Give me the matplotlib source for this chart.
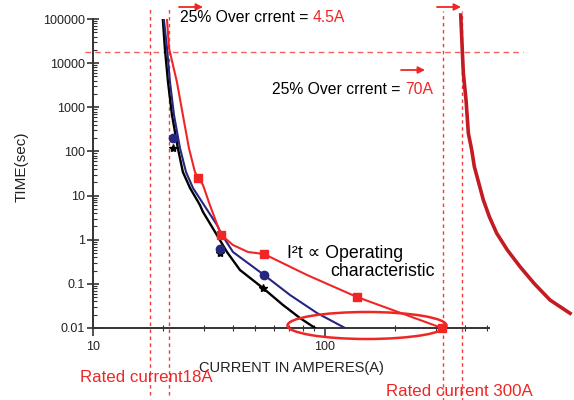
import matplotlib
matplotlib.use("Agg")
import matplotlib.pyplot as plt
from matplotlib.patches import Ellipse
from matplotlib.ticker import FixedLocator, NullFormatter

plt.rcParams['font.family'] = ['Liberation Sans', 'DejaVu Sans']

# time-current characteristics (current in A, time in s)
black_i = [20.0, 20.4, 21.05, 21.9, 23.2, 24.4, 26.2, 28.9, 29.8, 33.6, 37.8,
           43.0, 54.0, 65.9, 78.0, 90.6]
black_t = [1e5, 22000, 3740, 668, 120, 34.2, 14.8, 6.1, 4.24, 1.49, 0.526,
           0.206, 0.0805, 0.0332, 0.0168, 0.01]
black_pts_i = [22.1, 35.2, 54.0]
black_pts_t = [120, 0.5, 0.0805]

blue_i = [20.2, 20.84, 21.47, 22.34, 23.7, 25.17, 26.98, 30.1, 34.24, 35.97,
          40.13, 54.6, 70.7, 92.4, 122.0]
blue_t = [1e5, 22000, 3740, 668, 120, 34.2, 14.8, 6.1, 2.15, 1.28,
          0.526, 0.159, 0.0558, 0.0218, 0.01]
blue_pts_i = [22.1, 35.2, 54.6]
blue_pts_t = [200, 0.61, 0.159]

red_i = [20.84, 21.26, 23.0, 24.4, 25.9, 27.5, 28.4, 29.8, 31.9, 35.6, 40.1,
         46.6, 54.6, 83.6, 137.4, 319.0]
red_t = [1e5, 22000, 3740, 668, 120, 34.2, 25, 17.3, 6.1, 1.3, 0.759,
         0.526, 0.474, 0.159, 0.0503, 0.01]
red_pts_i = [28.4, 35.6, 54.6, 137.4, 319.0]
red_pts_t = [25, 1.3, 0.474, 0.0503, 0.01]

fuse_i = [384.6, 390.8, 394.7, 405.3, 414.8, 428.9, 440.2, 481.3, 510.8,
          549.5, 610.7, 692.5, 796, 933, 1138]
fuse_t = [1.23e5, 18150, 5890, 1462, 257, 107.6, 45.1, 7.94, 3.32,
          1.40, 0.585, 0.245, 0.1028, 0.043, 0.0215]

rated_lines = [17.6, 21.3, 322, 389]
over_time = 17900

ytick_vals = [0.01, 0.1, 1, 10, 100, 1000, 10000, 100000]
ytick_labels = ["0.01", "0.1", "1", "10", "100", "1000", "10000", "100000"]
xtick_vals = [10, 100]
xtick_labels = ["10", "100"]
xminor_vals = [20, 30, 40, 50, 60, 70, 80, 90, 200, 300, 400, 500]

W, H = 574, 400
fig = plt.figure(figsize=(W / 100, H / 100), dpi=100)
ax = fig.add_axes([93 / W, 72 / H, 482.4 / W, 309 / H])
ax.set_xscale('log')
ax.set_yscale('log')
ax.set_xlim(10, 1200)
ax.set_ylim(0.01, 1e5)

red = '#f02626'
ax.plot(black_i, black_t, color='black', lw=1.7, zorder=3)
ax.plot(black_pts_i, black_pts_t, ls='none', marker='*', ms=6, color='black', zorder=4)
ax.plot(blue_i, blue_t, color='#262680', lw=1.5, zorder=3)
ax.plot(blue_pts_i, blue_pts_t, ls='none', marker='o', ms=6, color='#262680', zorder=4)
ax.plot(red_i, red_t, color=red, lw=1.5, zorder=3)
ax.plot(red_pts_i, red_pts_t, ls='none', marker='s', ms=5.5, color=red, zorder=4,
        clip_on=False)
ax.plot(fuse_i, fuse_t, color='#c41a22', lw=2.6, zorder=3, clip_on=False)

# rated / overcurrent guide lines
for x in rated_lines[:2]:
    ax.plot([x, x], [3.0e-4, 1.9e5], color=red, lw=1, ls=(0, (2.5, 2.5)),
            clip_on=False, alpha=0.9)
for x in rated_lines[2:]:
    ax.plot([x, x], [2.2e-4, 1.5e5], color=red, lw=1, ls=(0, (2.5, 2.5)),
            clip_on=False, alpha=0.9)
ax.plot([9.2, 713], [over_time, over_time], color='#f46060', lw=1,
        ls=(0, (4, 3)), clip_on=False)

# axes styling
for s in ['top', 'right']:
    ax.spines[s].set_visible(False)
for s in ['left', 'bottom']:
    ax.spines[s].set_color('#333333')
    ax.spines[s].set_linewidth(1.4)
ax.spines['bottom'].set_bounds(10, 510)

ax.yaxis.set_major_locator(FixedLocator(ytick_vals))
ax.set_yticklabels(ytick_labels)
ax.yaxis.set_minor_locator(FixedLocator(
    [m * 10.0 ** e for e in range(-2, 5) for m in range(2, 10)]))
ax.yaxis.set_minor_formatter(NullFormatter())
ax.xaxis.set_major_locator(FixedLocator(xtick_vals))
ax.set_xticklabels(xtick_labels)
ax.xaxis.set_minor_locator(FixedLocator(xminor_vals))
ax.xaxis.set_minor_formatter(NullFormatter())

ax.tick_params(axis='y', which='major', direction='inout', length=8, width=1.2,
               labelsize=9, pad=2, colors='#333333', labelcolor='#222222')
ax.tick_params(axis='y', which='minor', direction='in', length=3, width=0.8,
               colors='#333333')
ax.tick_params(axis='x', which='major', direction='out', length=6, width=1.2,
               labelsize=9, pad=3, colors='#333333', labelcolor='#222222')
ax.tick_params(axis='x', which='minor', direction='inout', length=5, width=0.8,
               colors='#333333')

fig.text(22 / W, 1 - 167 / H, "TIME(sec)", rotation=90, ha='center', va='center',
         fontsize=11, color='#222222')
fig.text(291 / W, 1 - 368 / H, "CURRENT IN AMPERES(A)", ha='center', va='center',
         fontsize=10.5, color='#222222')


def label(x, y, s, **kw):
    return fig.text(x / W, 1 - y / H, s, va='center', **kw)


renderer = fig.canvas.get_renderer()


def two_tone(x, y, first, second, size):
    # black lead-in followed directly by the red value
    t = label(x, y, first, fontsize=size, color='black')
    x_end = t.get_window_extent(renderer).x1
    label(x_end, y, second, fontsize=size, color=red)


two_tone(180, 17, "25% Over crrent = ", "4.5A", 11.3)
two_tone(272, 90, "25% Over crrent = ", "70A", 11.3)
label(287, 253, "I\u00b2t \u221d Operating", fontsize=12.8, color='black')
label(330, 271, "characteristic", fontsize=12.8, color='black')
label(80, 378, "Rated current18A", fontsize=12.2, color=red)
label(386, 391, "Rated current 300A", fontsize=12.2, color=red)

# small arrows marking the 25% overcurrent step
for x0, x1, y in [(179, 203, 7), (401, 425, 70), (437, 461, 7)]:
    ax.annotate("", xy=(x1 / W, 1 - y / H), xytext=(x0 / W, 1 - y / H),
                xycoords='figure fraction', textcoords='figure fraction',
                arrowprops=dict(arrowstyle='-|>', color=red, lw=1.3,
                                mutation_scale=10, shrinkA=0, shrinkB=0))

fig.patches.append(Ellipse((367 / W, 1 - 325.5 / H), 159 / W, 27 / H,
                           transform=fig.transFigure, fill=False,
                           edgecolor=red, lw=1.8, zorder=5))

fig.savefig("out.png", dpi=100)
